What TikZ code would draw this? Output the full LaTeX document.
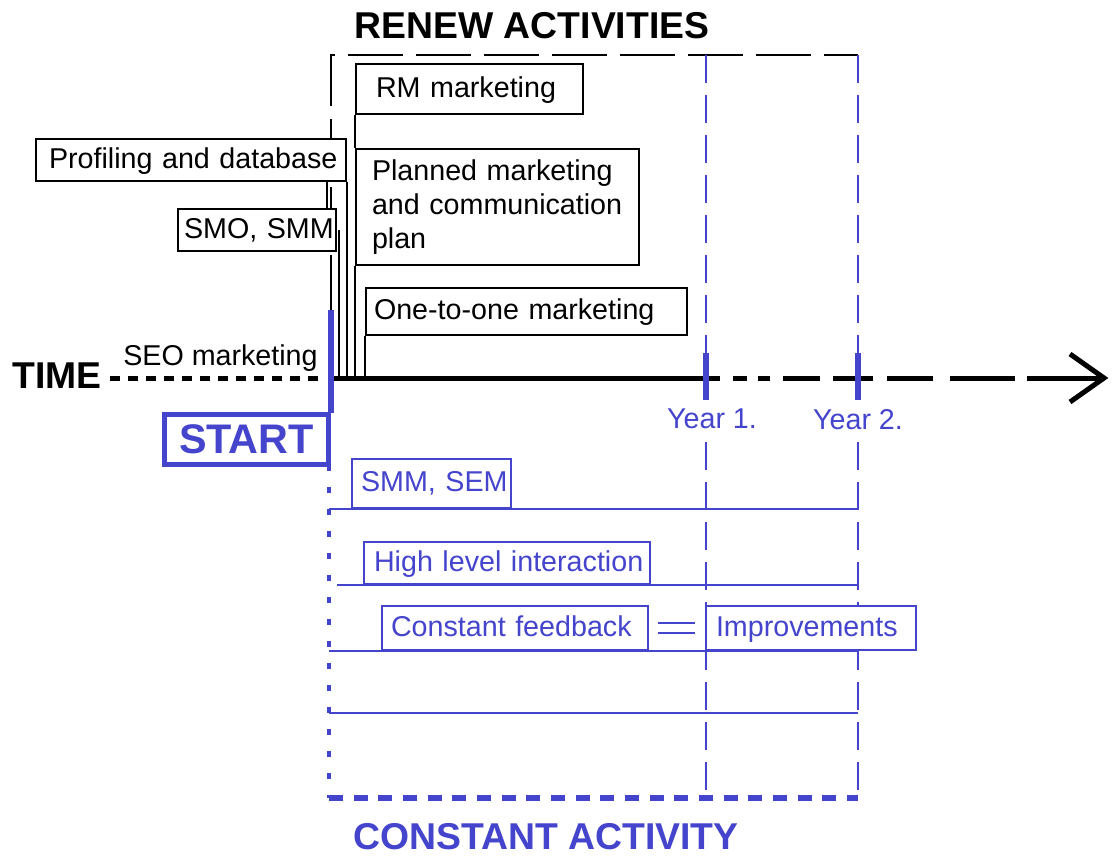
\documentclass[tikz,border=0pt]{standalone}
\usepackage{fontspec}
\setmainfont{Liberation Sans}
\usetikzlibrary{arrows.meta}
\definecolor{myblue}{RGB}{68,68,204}
\newcommand{\labfont}{\fontsize{21.5}{25.5}\selectfont}
\newcommand{\headfont}{\fontsize{28}{32}\selectfont\bfseries}
\newcommand{\startfont}{\fontsize{31}{34}\selectfont\bfseries}
\begin{document}
\begin{tikzpicture}[x=0.75pt,y=-0.75pt,
  bx/.style={draw, line width=1.5pt, fill=white, anchor=north west, inner ysep=0pt,
             align=left, font=\labfont},
  oneline/.style={text height=16pt, text depth=4pt},
  bbx/.style={bx, oneline, draw=myblue, text=myblue},
  conn/.style={draw, line width=1.5pt},
  rdash/.style={draw, line width=1.5pt, dash pattern=on 41pt off 10pt},
  ydash/.style={draw=myblue, line width=1.5pt, dash pattern=on 21pt off 9pt},
  bline/.style={draw=myblue, line width=1.5pt},
  cdot/.style={draw=myblue, line width=3.5pt, dash pattern=on 4.5pt off 12pt},
  cbot/.style={draw=myblue, line width=4pt, dash pattern=on 10.5pt off 8pt},
  tdash/.style={draw, line width=3.75pt, dash pattern=on 7.5pt off 6pt},
  axis/.style={draw, line width=3.75pt},
  tick/.style={draw=myblue, line width=4.5pt},
  txt/.style={inner sep=0pt, font=\labfont},
  head/.style={inner sep=0pt, font=\headfont},
  dbl/.style={draw=myblue, double=white, double distance=6pt, line width=1.5pt}
]
\useasboundingbox (0,0) rectangle (1112,857);
\fill[white] (0,0) rectangle (1112,857);

% key coordinates
\coordinate (t0) at (330,378);
\coordinate (tL) at (110,378);
\coordinate (tLe) at (320,378);
\coordinate (tend) at (1104,378);
\coordinate (ren) at (331,55);
\coordinate (renl) at (331,310);
\coordinate (y1t) at (706,55);
\coordinate (y1m) at (706,353);
\coordinate (y1n) at (706,442);
\coordinate (y1b) at (706,798);
\coordinate (y2t) at (858,55);
\coordinate (y2m) at (858,353);
\coordinate (y2n) at (858,442);
\coordinate (y2b) at (858,798);
\coordinate (cal) at (329,465);
\coordinate (cbl) at (329,798);
\coordinate (hx) at (337,0);
\coordinate (l4a) at (329,713);

% renew activities frame
\draw[rdash] (renl) -- (ren) -- (y2t);
\draw[ydash] (y1t) -- (y1m);
\draw[ydash] (y1n) -- (y1b);
\draw[ydash] (y2t) -- (y2m);
\draw[ydash] (y2n) -- (y2b);

% constant activity frame
\draw[cdot] (cal) -- (cbl);
\draw[cbot] (cbl) -- (y2b);

% boxes (renew)
\node[bx, oneline, inner xsep=9.75pt, text width=213pt, minimum height=31.5pt] (prof) at (35,138) {\mbox{Profiling and database}};
\node[bx, oneline, inner xsep=4.5pt, text width=109.5pt, minimum height=31.5pt] (smo) at (177,208) {\mbox{SMO, SMM}};
\node[bx, oneline, inner xsep=15pt, text width=140.25pt, minimum height=37.5pt] (rm) at (355,63) {\mbox{RM marketing}};
\node[bx, inner xsep=12pt, text width=188.25pt, minimum height=87pt] (plan) at (355,148) {Planned marketing\\and communication\\plan};
\node[bx, oneline, inner xsep=6pt, text width=228.75pt, minimum height=35.25pt] (one) at (365,287) {\mbox{One-to-one marketing}};

% boxes (constant)
\node[bbx, inner xsep=6.75pt, text width=105.75pt, minimum height=36.75pt] (smm) at (351,458) {\mbox{SMM, SEM}};
\node[bbx, inner xsep=7.5pt, text width=199.5pt, minimum height=31.5pt] (high) at (363,541) {\mbox{High level interaction}};
\node[bbx, inner xsep=6.75pt, text width=186pt, minimum height=33pt] (cf) at (381,605) {\mbox{Constant feedback}};
\node[bbx, inner xsep=7.5pt, text width=142.5pt, minimum height=33pt] (imp) at (705,605) {\mbox{Improvements}};

% blue activity lines
\draw[bline] (smm.south -| cal) -- (smm.south -| y2t);
\draw[bline] (high.south -| hx) -- (high.south -| y2t);
\draw[bline] (cf.south -| cal) -- (cf.south -| y2t);
\draw[bline] (l4a) -- (l4a -| y2t);
\draw[dbl, shorten <=6.75pt, shorten >=7.5pt] (cf.east) -- (imp.west);

% black connectors to the time axis
\draw[conn] ([xshift=-15pt]prof.south east) -- ([xshift=-15pt]prof.south east |- smo.north);
\draw[conn] (prof.south east) -- (prof.south east |- t0);
\draw[conn] ([xshift=1.5pt]smo.east) -- ([xshift=1.5pt]smo.east |- t0);
\draw[conn] (rm.south west) -- (plan.north west);
\draw[conn] (plan.south west) -- (plan.south west |- t0);
\draw[conn] (one.south west) -- (one.south west |- t0);

% time axis
\draw[tdash] (tL) -- (tLe);
\draw[axis] (t0) -- (720,378);
\foreach \a/\b in {733/747,758/770,783/820,833/873,887/933,950/1015}
  \draw[axis] (\a,378) -- (\b,378);
\draw[axis] (1027,378) -- (tend);
\draw[axis, line join=miter] (1070,354) -- (tend) -- (1070,402);
\draw[tick] (y1m) -- (706,400);
\draw[tick] (y2m) -- (858,400);

% start
\node[draw=myblue, line width=3.75pt, text=myblue, font=\startfont, minimum width=123pt,
      minimum height=37.5pt, inner sep=0pt] (start) at (246.5,439) {START};
\draw[tick] (start.north east |- renl) -- ([yshift=-1pt]start.north east);

% texts
\node[head, anchor=base] (renew) at (532,38) {RENEW ACTIVITIES};
\node[head, anchor=base, text=myblue] (const) at (546,849) {CONSTANT ACTIVITY};
\node[head, anchor=base west] (time) at (12,388) {TIME};
\node[txt, anchor=base west] (seo) at (123,365) {SEO marketing};
\node[txt, anchor=base, text=myblue] (yr1) at (712,428) {Year 1.};
\node[txt, anchor=base, text=myblue] (yr2) at (858,429) {Year 2.};
\end{tikzpicture}
\end{document}
